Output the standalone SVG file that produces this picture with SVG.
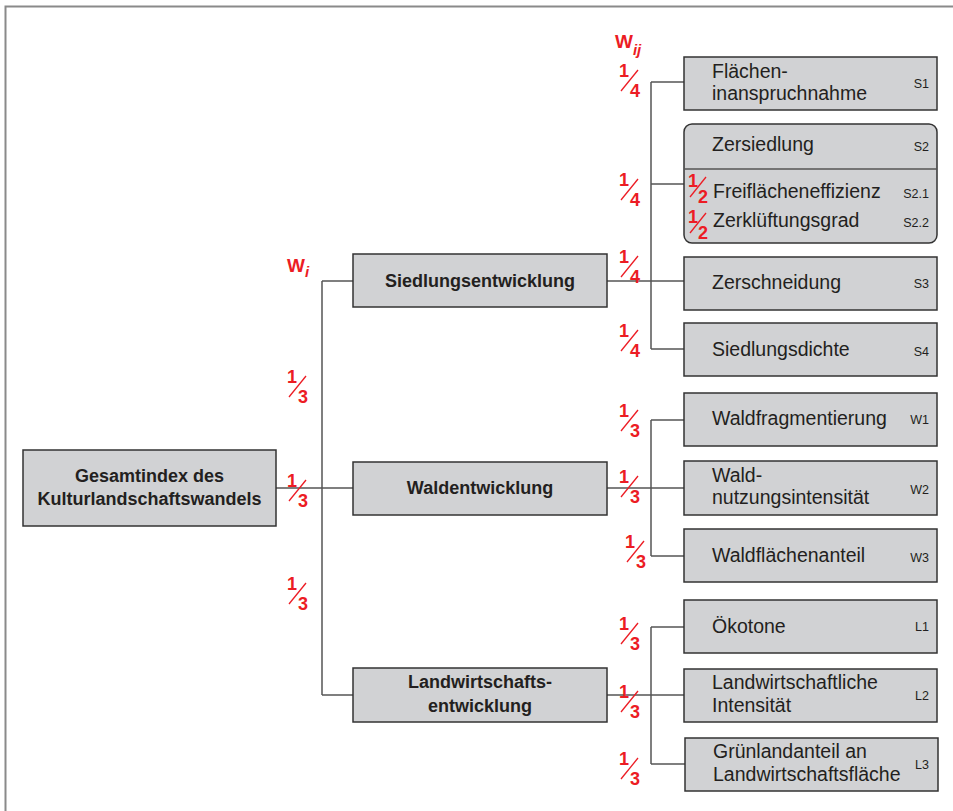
<svg xmlns="http://www.w3.org/2000/svg" width="953" height="811" viewBox="0 0 953 811">
<style>
.box{fill:#d1d2d4;stroke:#333;stroke-width:1.5}
.con{fill:none;stroke:#555;stroke-width:1.5}
.bt{font-family:"Liberation Sans",Arial,sans-serif;font-weight:bold;font-size:18px;fill:#231f20;text-anchor:middle}
.t{font-family:"Liberation Sans",Arial,sans-serif;font-size:19.5px;fill:#231f20}
.c{font-family:"Liberation Sans",Arial,sans-serif;font-size:12.5px;fill:#231f20;text-anchor:end}
.w{font-family:"Liberation Sans",Arial,sans-serif;font-weight:bold;fill:#ec1c24}
</style>
<defs>
<g id="f3" font-family="Liberation Sans, Arial, sans-serif" font-weight="bold" font-size="18" fill="#ec1c24" stroke-width="1.3"><text x="0" y="0">1</text><line x1="2" y1="14" x2="19" y2="-7" stroke="#ec1c24"/><text x="11" y="20">3</text></g>
<g id="f4" font-family="Liberation Sans, Arial, sans-serif" font-weight="bold" font-size="18" fill="#ec1c24" stroke-width="1.3"><text x="0" y="0">1</text><line x1="2" y1="14" x2="19" y2="-7" stroke="#ec1c24"/><text x="11" y="20">4</text></g>
<g id="f2" font-family="Liberation Sans, Arial, sans-serif" font-weight="bold" font-size="18" fill="#ec1c24" stroke-width="1.3"><text x="0" y="0">1</text><line x1="2" y1="10" x2="18" y2="-10" stroke="#ec1c24"/><text x="10" y="16">2</text></g>
</defs>
<rect x="0" y="0" width="953" height="811" fill="#fff"/>
<path d="M5.5 811 V6.5 H953" fill="none" stroke="#8a8a8a" stroke-width="2"/>

<g id="connectors">
<path class="con" d="M276 488 H353 M322 281 V695 M322 281 H353 M322 695 H353"/>
<path class="con" d="M607 281 H684 M651 82 V349 M651 82 H684 M651 184 H684 M651 349 H684"/>
<path class="con" d="M607 488 H684 M651 420 V556 M651 420 H684 M651 556 H684"/>
<path class="con" d="M607 695 H684 M651 627 V764 M651 627 H685 M651 764 H685"/>
</g>

<g id="weights">
<text class="w" x="287" y="272" font-size="19">W<tspan font-size="15" font-style="italic" dy="5">i</tspan></text>
<text class="w" x="615" y="48" font-size="19">W<tspan font-size="15" font-style="italic" dy="7">ij</tspan></text>
<use href="#f3" x="287" y="383"/>
<use href="#f3" x="287" y="487"/>
<use href="#f3" x="287" y="590"/>
<use href="#f4" x="619" y="77"/>
<use href="#f4" x="619" y="186"/>
<use href="#f4" x="619" y="263"/>
<use href="#f4" x="619" y="337"/>
<use href="#f3" x="619" y="417"/>
<use href="#f3" x="619" y="483"/>
<use href="#f3" x="625" y="548"/>
<use href="#f3" x="619" y="630"/>
<use href="#f3" x="619" y="698"/>
<use href="#f3" x="619" y="765"/>
</g>

<g id="root">
<rect class="box" x="23" y="450" width="253" height="76"/>
<text class="bt" x="149.5" y="482">Gesamtindex des</text>
<text class="bt" x="149.5" y="505">Kulturlandschaftswandels</text>
</g>

<g id="siedlung">
<rect class="box" x="353" y="254" width="254" height="53"/>
<text class="bt" x="480" y="287">Siedlungsentwicklung</text>
</g>
<g id="wald">
<rect class="box" x="353" y="462" width="254" height="53"/>
<text class="bt" x="480" y="494">Waldentwicklung</text>
</g>
<g id="land">
<rect class="box" x="353" y="668" width="254" height="54"/>
<text class="bt" x="480" y="688">Landwirtschafts-</text>
<text class="bt" x="480" y="712">entwicklung</text>
</g>

<g id="S1">
<rect class="box" x="684" y="57" width="253" height="53"/>
<text class="t" x="712" y="78">Flächen-</text>
<text class="t" x="712" y="100">inanspruchnahme</text>
<text class="c" x="929" y="88">S1</text>
</g>
<g id="S2">
<rect class="box" x="684" y="124" width="253" height="119" rx="8"/>
<line x1="684" y1="169" x2="937" y2="169" stroke="#555" stroke-width="1.3"/>
<text class="t" x="712" y="151">Zersiedlung</text>
<text class="c" x="929" y="151">S2</text>
<text class="t" x="713" y="198">Freiflächeneffizienz</text>
<text class="c" x="929" y="198">S2.1</text>
<text class="t" x="713" y="227">Zerklüftungsgrad</text>
<text class="c" x="929" y="227">S2.2</text>
<use href="#f2" x="688" y="187"/>
<use href="#f2" x="688" y="223"/>
</g>
<g id="S3">
<rect class="box" x="684" y="257" width="253" height="53"/>
<text class="t" x="712" y="289">Zerschneidung</text>
<text class="c" x="929" y="288">S3</text>
</g>
<g id="S4">
<rect class="box" x="684" y="323" width="253" height="53"/>
<text class="t" x="712" y="356">Siedlungsdichte</text>
<text class="c" x="929" y="356">S4</text>
</g>

<g id="W1">
<rect class="box" x="684" y="393" width="253" height="53"/>
<text class="t" x="712" y="425">Waldfragmentierung</text>
<text class="c" x="929" y="424">W1</text>
</g>
<g id="W2">
<rect class="box" x="684" y="461" width="253" height="54"/>
<text class="t" x="712" y="482">Wald-</text>
<text class="t" x="712" y="504">nutzungsintensität</text>
<text class="c" x="929" y="494">W2</text>
</g>
<g id="W3">
<rect class="box" x="684" y="529" width="253" height="53"/>
<text class="t" x="712" y="562">Waldflächenanteil</text>
<text class="c" x="929" y="562">W3</text>
</g>

<g id="L1">
<rect class="box" x="684" y="600" width="253" height="53"/>
<text class="t" x="712" y="633">Ökotone</text>
<text class="c" x="929" y="631">L1</text>
</g>
<g id="L2">
<rect class="box" x="684" y="669" width="253" height="53"/>
<text class="t" x="712" y="689">Landwirtschaftliche</text>
<text class="t" x="712" y="712">Intensität</text>
<text class="c" x="929" y="700">L2</text>
</g>
<g id="L3">
<rect class="box" x="685" y="738" width="253" height="53"/>
<text class="t" x="713" y="758">Grünlandanteil an</text>
<text class="t" x="713" y="781">Landwirtschaftsfläche</text>
<text class="c" x="929" y="769">L3</text>
</g>
</svg>
